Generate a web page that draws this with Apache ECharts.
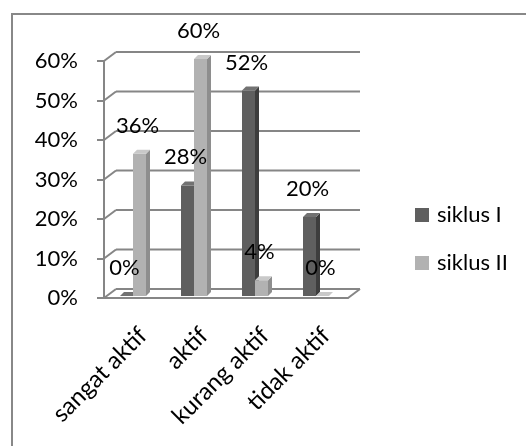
<!DOCTYPE html>
<html>
<head>
<meta charset="utf-8">
<script src="https://cdn.jsdelivr.net/npm/echarts@6/dist/echarts.min.js"></script>
<style>
html, body { margin: 0; padding: 0; background: #fff; }
#chart { width: 526px; height: 446px; }
</style>
</head>
<body>
<div id="chart"></div>
<script>
// Data (percent)
var categories = ['sangat aktif', 'aktif', 'kurang aktif', 'tidak aktif'];
var siklus1 = [0, 28, 52, 20];
var siklus2 = [36, 60, 4, 0];
var yTicks = [0, 10, 20, 30, 40, 50, 60];
var seriesNames = ['siklus I', 'siklus II'];

var lineColor = '#868686';
var fontName = 'Lato';
// back wall offset of the fake 3D frame
var depthX = 12, depthY = -9;
var barW = 13;

// left edge of a column in pixels
function barLeft(api, which) {
    var base = api.coord([api.value(0), 0]);
    var cx = base[0] - 1.5;
    return which === 0 ? cx - barW : cx;
}

// Builds the renderItem for one series of pseudo 3D columns
function makeBar(which, frontCol, sideCol, topCol) {
    return function (params, api) {
        var top = api.coord([api.value(0), api.value(1)]);
        var base = api.coord([api.value(0), 0]);
        var sd = 4, su = 4;
        var x0 = barLeft(api, which);
        var x1 = x0 + barW;
        var by = base[1] - 2;
        var ty = top[1] - 2;
        return {
            type: 'group',
            children: [{
                type: 'polygon',
                shape: { points: [[x1, ty], [x1 + sd, ty - su], [x1 + sd, by - su], [x1, by]] },
                style: { fill: sideCol }
            }, {
                type: 'rect',
                shape: { x: x0, y: ty, width: barW, height: by - ty },
                style: { fill: frontCol }
            }, {
                type: 'polygon',
                shape: { points: [[x0, ty], [x0 + sd, ty - su], [x1 + sd, ty - su], [x1, ty]] },
                style: { fill: topCol }
            }]
        };
    };
}

// Value labels, drawn above all columns
function makeLabel(which) {
    return function (params, api) {
        var top = api.coord([api.value(0), api.value(1)]);
        var x0 = barLeft(api, which);
        return {
            type: 'text',
            style: {
                text: api.value(1) + '%',
                x: x0 + barW / 2 - 2,
                y: top[1] - 30,
                align: 'center',
                verticalAlign: 'middle',
                fontSize: 22,
                fontFamily: fontName,
                fill: '#000'
            }
        };
    };
}

// Back wall grid lines, left wall diagonals and floor
function renderFrame(params, api) {
    var cs = params.coordSys;
    var left = cs.x, right = cs.x + cs.width;
    var children = [];
    var st = { stroke: lineColor, lineWidth: 2 };
    yTicks.forEach(function (v) {
        var y = api.coord([0, v])[1];
        children.push({ type: 'line', shape: { x1: left, y1: y, x2: left + depthX, y2: y + depthY }, style: st });
        children.push({ type: 'line', shape: { x1: left + depthX, y1: y + depthY, x2: right + depthX, y2: y + depthY }, style: st });
    });
    var y0 = api.coord([0, 0])[1];
    children.push({ type: 'line', shape: { x1: right, y1: y0, x2: right + depthX, y2: y0 + depthY }, style: st });
    return { type: 'group', children: children };
}

function toPairs(arr) {
    return arr.map(function (v, i) { return [i, v]; });
}

var chart = echarts.init(document.getElementById('chart'));

chart.setOption({
    animation: false,
    backgroundColor: '#fff',
    graphic: [{
        type: 'rect',
        shape: { x: 12, y: 14, width: 530, height: 450 },
        style: { fill: 'none', stroke: '#888', lineWidth: 2 },
        z: 0
    }],
    legend: {
        orient: 'vertical',
        left: 410,
        top: 198,
        icon: 'rect',
        itemWidth: 14,
        itemHeight: 14,
        itemGap: 24,
        data: seriesNames,
        textStyle: { fontSize: 22, lineHeight: 24, fontFamily: fontName, color: '#000', padding: [0, 0, 0, 3] }
    },
    grid: {
        left: 104,
        right: 178,
        top: 61,
        bottom: 148,
        outerBoundsMode: 'none'
    },
    xAxis: {
        type: 'category',
        data: categories,
        axisLine: { lineStyle: { color: lineColor, width: 2 } },
        axisTick: { length: 7, interval: 0, lineStyle: { color: lineColor, width: 2 } },
        axisLabel: {
            rotate: 45, interval: 0, margin: 25, align: 'right', verticalAlign: 'top',
            fontSize: 24, fontFamily: fontName, color: '#000'
        }
    },
    yAxis: {
        type: 'value',
        min: 0,
        max: 60,
        interval: 10,
        axisLine: { show: true, lineStyle: { color: lineColor, width: 2 } },
        axisTick: { show: true, length: 7, lineStyle: { color: lineColor, width: 2 } },
        splitLine: { show: false },
        axisLabel: { formatter: '{value}%', margin: 26, fontSize: 22, fontFamily: fontName, color: '#000' }
    },
    series: [{
        name: 'frame',
        type: 'custom',
        silent: true,
        z: 1,
        data: [0],
        renderItem: renderFrame
    }, {
        name: seriesNames[0],
        type: 'custom',
        z: 2,
        itemStyle: { color: '#5f5f5f' },
        data: toPairs(siklus1),
        renderItem: makeBar(0, '#5f5f5f', '#3d3d3d', '#727272')
    }, {
        name: seriesNames[1],
        type: 'custom',
        z: 3,
        itemStyle: { color: '#b2b2b2' },
        data: toPairs(siklus2),
        renderItem: makeBar(1, '#b2b2b2', '#8e8e8e', '#c9c9c9')
    }, {
        name: 'label I',
        type: 'custom',
        silent: true,
        z: 5,
        data: toPairs(siklus1),
        renderItem: makeLabel(0)
    }, {
        name: 'label II',
        type: 'custom',
        silent: true,
        z: 5,
        data: toPairs(siklus2),
        renderItem: makeLabel(1)
    }]
});

window.addEventListener('resize', function () {
    chart.resize();
});
</script>
</body>
</html>
